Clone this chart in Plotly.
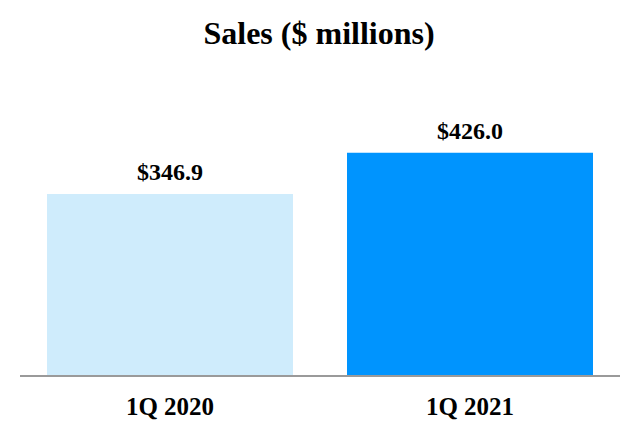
import plotly.graph_objects as go

# Chart data
quarters = ['1Q 2020', '1Q 2021']
sales = [346.9, 426.0]
bar_colors = ['#CFECFC', '#0094FE']
value_labels = ['$346.9', '$426.0']

SERIF = 'Liberation Serif, Times New Roman, serif'

fig = go.Figure()

fig.add_trace(go.Bar(
    x=quarters,
    y=sales,
    marker=dict(color=bar_colors, line=dict(width=0)),
    width=0.82,
    hoverinfo='skip'
))

# value labels sit a little above each bar
for q, v, lbl in zip(quarters, sales, value_labels):
    fig.add_annotation(
        x=q, y=v, text=lbl,
        showarrow=False,
        yanchor='middle',
        yshift=22,
        font=dict(family=SERIF, size=24, color='black', weight='bold')
    )

fig.update_layout(
    title=dict(
        text='Sales ($ millions)',
        x=0.486, xanchor='center',
        y=0.944, yanchor='middle',
        font=dict(family=SERIF, size=32, color='black', weight='bold')
    ),
    width=640,
    height=440,
    margin=dict(l=12, r=28, t=106, b=73),
    paper_bgcolor='white',
    plot_bgcolor='white',
    showlegend=False
)

fig.update_xaxes(
    showline=True,
    linecolor='#9A9A9A',
    linewidth=2,
    ticks='outside',
    ticklen=8,
    tickcolor='rgba(0,0,0,0)',
    tickfont=dict(family=SERIF, size=25, color='black', weight='bold'),
    showgrid=False
)

fig.update_yaxes(
    range=[0, 500],
    visible=False,
    showgrid=False,
    zeroline=False
)

fig.write_html("out.html")
